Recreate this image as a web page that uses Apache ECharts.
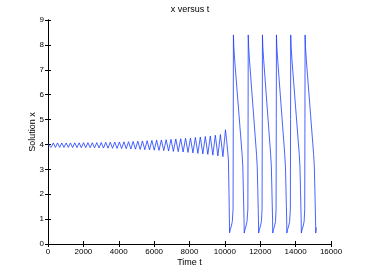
<!DOCTYPE html>
<html>
<head>
<meta charset="utf-8">
<script src="https://cdn.jsdelivr.net/npm/echarts@6/dist/echarts.min.js"></script>
<style>html,body{margin:0;padding:0;background:#fff}#c{width:366px;height:275px}</style>
</head>
<body>
<div id="c"></div>
<script>
// growing small oscillation (t, x)
const rampT = [0,60,180,299,420,540,660,781,903,1025,1147,1269,1391,1514,1637,1761,1884,2008,2132,2257,2382,2507,2633,2759,2885,3011,3138,3265,3392,3520,3648,3776,3905,4034,4163,4293,4423,4553,4683,4814,4945,5077,5209,5341,5473,5606,5739,5873,6007,6141,6275,6410,6545,6681,6817,6953,7089,7226,7363,7501,7639,7777,7915,8054,8193,8333,8473,8613,8753,8894,9035,9177,9319,9461,9604,9747,9890];
const rampX = [4.0,4.06,3.88,4.06,3.88,4.06,3.88,4.06,3.88,4.06,3.88,4.06,3.875,4.065,3.875,4.065,3.87,4.07,3.87,4.07,3.87,4.07,3.865,4.075,3.86,4.08,3.855,4.085,3.85,4.09,3.845,4.095,3.84,4.10,3.835,4.105,3.83,4.11,3.82,4.12,3.81,4.13,3.80,4.14,3.79,4.15,3.78,4.16,3.77,4.17,3.76,4.18,3.75,4.19,3.735,4.205,3.72,4.22,3.71,4.23,3.695,4.245,3.68,4.26,3.66,4.28,3.64,4.30,3.62,4.32,3.60,4.34,3.57,4.37,3.54,4.40,3.51];
// relaxation spikes (t, x)
const spikeT = [10034,10100,10160,10200,10235,10255,10265,
 10305,10365,10420,10463,10475,10483, 10508,10553,10975,11015,11045,11083,11095,
 11135,11195,11250,11300,11312,11320, 11345,11390,11790,11830,11860,11898,11910,
 11950,12010,12065,12103,12115,12123, 12148,12193,12588,12628,12658,12696,12708,
 12748,12808,12863,12895,12907,12915, 12940,12985,13385,13425,13455,13493,13505,
 13545,13605,13660,13702,13714,13722, 13747,13792,14205,14245,14275,14313,14325,
 14365,14425,14480,14515,14527,14535, 14560,14605,15018,15058,15088,15126,15138,
 15160,15175];
const spikeX = [4.59,4.15,3.7,3.38,2.0,1.0,0.45,
 0.58,0.72,0.9,1.4,5.0,8.4, 7.9,7.4,3.6,3.1,2.2,1.0,0.44,
 0.58,0.72,0.9,1.4,5.0,8.4, 7.9,7.4,3.6,3.1,2.2,1.0,0.44,
 0.58,0.72,0.9,1.4,5.0,8.4, 7.9,7.4,3.6,3.1,2.2,1.0,0.44,
 0.58,0.72,0.9,1.4,5.0,8.4, 7.9,7.4,3.6,3.1,2.2,1.0,0.44,
 0.58,0.72,0.9,1.4,5.0,8.4, 7.9,7.4,3.6,3.1,2.2,1.0,0.44,
 0.58,0.72,0.9,1.4,5.0,8.4, 7.9,7.4,3.6,3.1,2.2,1.0,0.44,
 0.6,0.66];
const xTicks = [0,2000,4000,6000,8000,10000,12000,14000,16000];
const yTicks = [0,1,2,3,4,5,6,7,8,9];

const allT = rampT.concat(spikeT);
const allX = rampX.concat(spikeX);
const data = [];
for (let i = 0; i < Math.min(allT.length, allX.length); i++) data.push([allT[i], allX[i]]);

const FONT = 'Liberation Sans, Arial, Helvetica, sans-serif';
const line = {show:true, lineStyle:{color:'#000', width:1}};
const tick = {show:true, inside:true, length:3, lineStyle:{color:'#000', width:1}};
const lbl = {color:'#000', fontSize:8, fontFamily:FONT};
const nm = {color:'#000', fontSize:9, fontFamily:FONT};
const chart = echarts.init(document.getElementById('c'), null, {renderer:'canvas'});
chart.setOption({
  animation:false,
  backgroundColor:'#fff',
  grid:{left:48, right:35, top:20, bottom:31, containLabel:false},
  graphic:[{type:'text', x:190, y:10, style:{text:'x versus t', fill:'#000', font:'9px '+FONT, textAlign:'center', textVerticalAlign:'middle'}}],
  xAxis:[
    {type:'value', min:xTicks[0], max:xTicks[xTicks.length-1], interval:2000, position:'bottom',
     axisLine:line, axisTick:tick, splitLine:{show:false},
     axisLabel:Object.assign({margin:4, formatter:function(v){return String(v);}}, lbl),
     name:'Time t', nameLocation:'middle', nameGap:14, nameMoveOverlap:false, nameTextStyle:nm},
    {type:'value', min:xTicks[0], max:xTicks[xTicks.length-1], interval:2000, position:'top',
     axisLine:line, axisTick:tick, splitLine:{show:false}, axisLabel:{show:false}}
  ],
  yAxis:[
    {type:'value', min:yTicks[0], max:yTicks[yTicks.length-1], interval:1, position:'left',
     axisLine:line, axisTick:tick, splitLine:{show:false},
     axisLabel:Object.assign({margin:4, formatter:function(v){return String(v);}}, lbl),
     name:'Solution x', nameLocation:'middle', nameGap:11, nameMoveOverlap:false, nameTextStyle:nm},
    {type:'value', min:yTicks[0], max:yTicks[yTicks.length-1], interval:1, position:'right',
     axisLine:line, axisTick:tick, splitLine:{show:false}, axisLabel:{show:false}}
  ],
  series:[{type:'line', data:data, showSymbol:false, symbol:'none', smooth:false,
    lineStyle:{color:'#1a3cff', width:0.8}, xAxisIndex:0, yAxisIndex:0}]
});
</script>
</body>
</html>
